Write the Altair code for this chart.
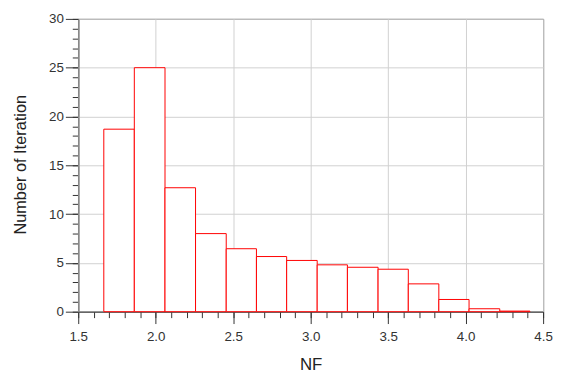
import altair as alt
import pandas as pd

# Histogram bin edges (NF) and counts (Number of Iteration)
bin_edges = [1.665, 1.862, 2.060, 2.257, 2.455, 2.650, 2.845, 3.042,
             3.237, 3.435, 3.630, 3.827, 4.022, 4.220, 4.415]
counts = [18.7, 25.0, 12.7, 8.0, 6.45, 5.65, 5.25, 4.8,
          4.55, 4.35, 2.85, 1.25, 0.3, 0.06]

x_major = [1.5, 2.0, 2.5, 3.0, 3.5, 4.0, 4.5]
x_minor = [round(1.5 + 0.1 * i, 1) for i in range(31)]
y_major = [0, 5, 10, 15, 20, 25, 30]
y_minor = list(range(0, 31))

df = pd.DataFrame({
    "start": bin_edges[:-1],
    "end": bin_edges[1:],
    "count": counts,
})

FONT = "Liberation Sans"
xscale = alt.Scale(domain=[1.5, 4.5], nice=False, zero=False)
yscale = alt.Scale(domain=[0, 30], nice=False)

minor = alt.Chart(df).mark_rect(opacity=0).encode(
    x=alt.X("start:Q", scale=xscale,
            axis=alt.Axis(orient="bottom", values=x_minor, labels=False,
                          title=None, grid=False, domain=False,
                          tickSize=6, tickColor="#333", tickWidth=1)),
    x2="end:Q",
    y=alt.Y("count:Q", scale=yscale,
            axis=alt.Axis(orient="left", values=y_minor, labels=False,
                          title=None, grid=False, domain=False,
                          tickSize=6, tickColor="#333", tickWidth=1)),
    y2=alt.datum(0),
)

bars = alt.Chart(df).mark_rect(fill="white", stroke="#ff0000",
                               strokeWidth=1).encode(
    x=alt.X("start:Q", scale=xscale,
            axis=alt.Axis(orient="bottom", values=x_major, format=".1f",
                          title="NF", grid=True, gridColor="#d0d0d0",
                          gridWidth=1, tickSize=12, tickColor="#333",
                          domainColor="#444", labelPadding=6,
                          labelFlush=False,
                          labelFont=FONT, labelFontSize=13.5,
                          labelColor="#333", titleFont=FONT,
                          titleFontSize=17, titleFontWeight="normal",
                          titleColor="#222", titleY=53,
                          titleBaseline="middle")),
    x2="end:Q",
    y=alt.Y("count:Q", scale=yscale,
            axis=alt.Axis(orient="left", values=y_major,
                          title="Number of Iteration", grid=True,
                          gridColor="#d0d0d0", gridWidth=1, tickSize=13,
                          tickColor="#333", domainColor="#888",
                          domainWidth=1.5, labelPadding=2,
                          labelFlush=False,
                          labelFont=FONT, labelFontSize=13.5,
                          labelColor="#333", titleFont=FONT,
                          titleFontSize=16.5, titleFontWeight="normal",
                          titleColor="#222", titleX=-58, titleY=147,
                          titleAngle=-90, titleAlign="center",
                          titleBaseline="middle")),
    y2=alt.datum(0),
)

chart = alt.layer(minor, bars).resolve_axis(
    x="independent", y="independent"
).properties(
    width=470, height=296,
    autosize=alt.AutoSizeParams(type="none"),
    padding={"left": 71, "top": 9, "right": 12, "bottom": 62},
).configure_view(stroke="#111", strokeWidth=1)

chart.save("out.html", embed_options={"renderer": "svg", "actions": False})
